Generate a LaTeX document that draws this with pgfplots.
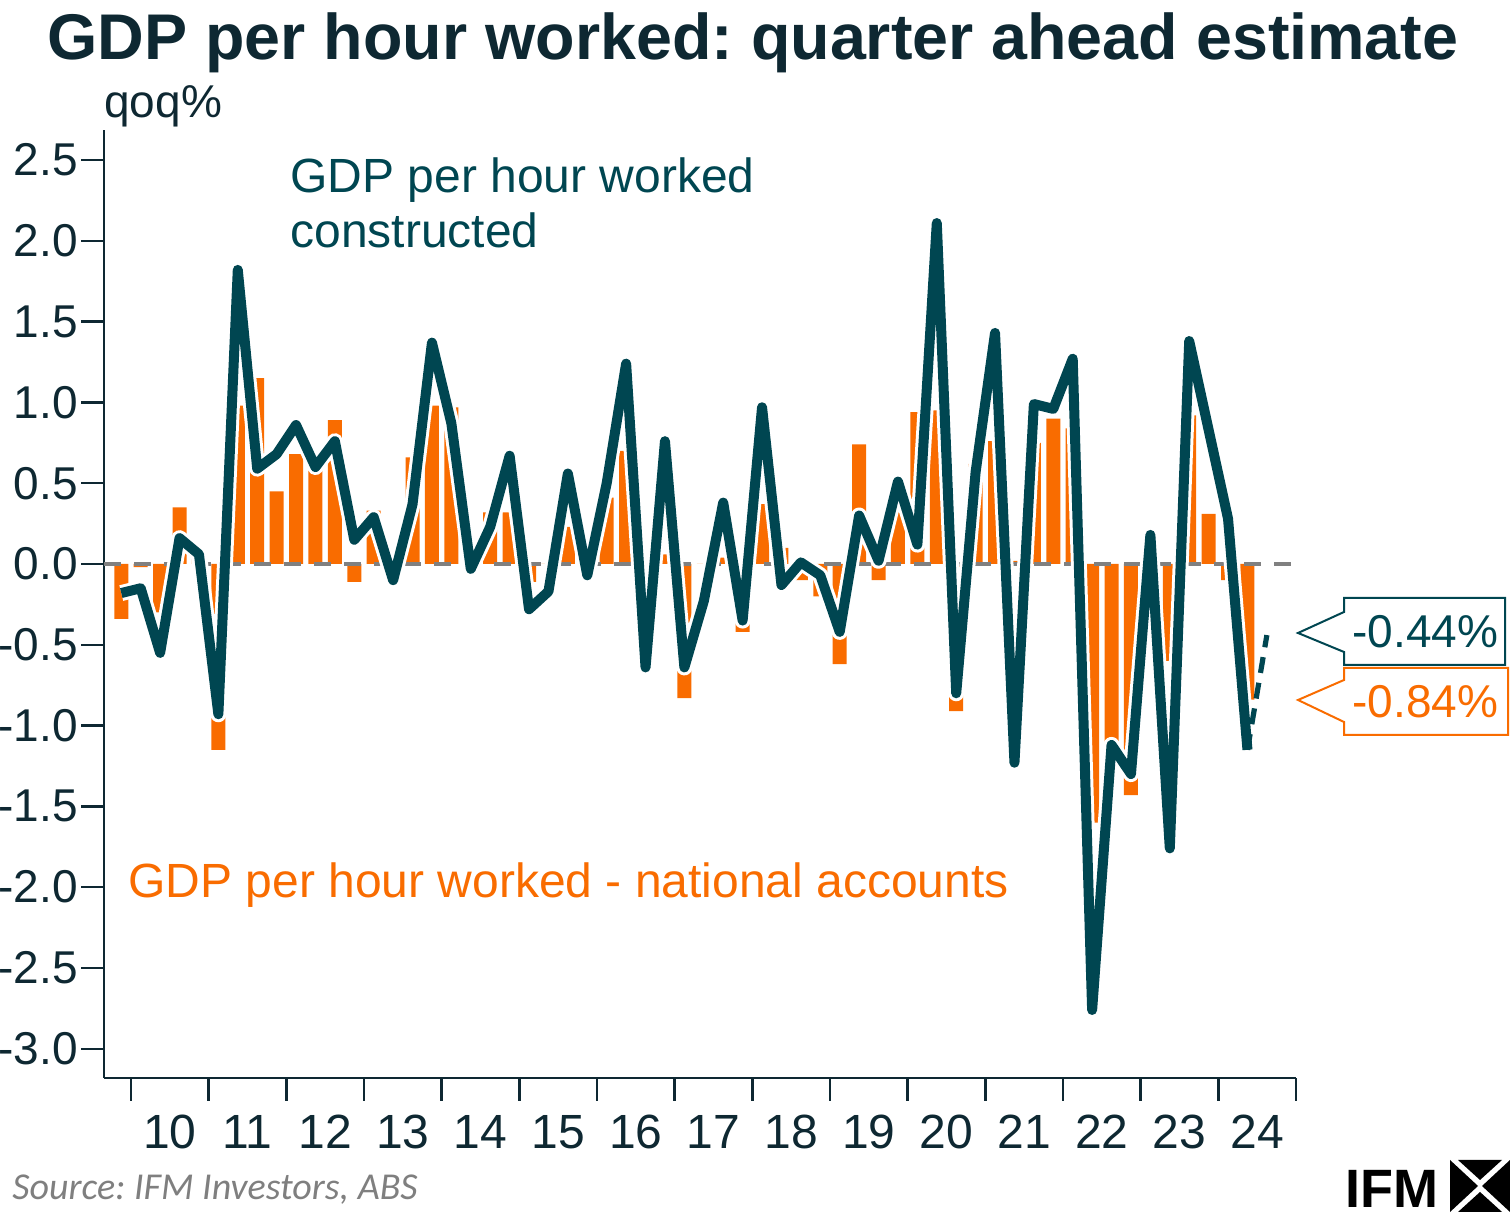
\documentclass[border=0pt]{standalone}
\usepackage{fontspec}
\setmainfont{Liberation Sans}
\newfontfamily\srcfont{Carlito}
\usepackage{pgfplots}
\usepackage{pgfplotstable}
\pgfplotsset{compat=1.18}
\frenchspacing

\definecolor{ifmdark}{RGB}{14,40,50}
\definecolor{ifmteal}{RGB}{0,70,81}
\definecolor{ifmorange}{RGB}{249,108,0}
\definecolor{srcgray}{RGB}{127,127,127}

% quarters: x=-0.5 is 2009Q4, year boundaries at 0,4,8,...
\pgfplotstableread{
x     line   na
-0.5  -0.18  -0.34
0.5   -0.15  -0.02
1.5   -0.55  -0.30
2.5    0.16   0.35
3.5    0.06   0.03
4.5   -0.93  -1.15
5.5    1.82   0.98
6.5    0.59   1.15
7.5    0.68   0.45
8.5    0.86   0.68
9.5    0.60   0.58
10.5   0.76   0.89
11.5   0.15  -0.11
12.5   0.29   0.33
13.5  -0.10   0.02
14.5   0.37   0.66
15.5   1.37   0.98
16.5   0.87   0.97
17.5  -0.03   0.02
18.5   0.23   0.32
19.5   0.67   0.32
20.5  -0.28  -0.11
21.5  -0.17   0.00
22.5   0.56   0.23
23.5  -0.07   0.02
24.5   0.50   0.41
25.5   1.24   0.70
26.5  -0.64   0.02
27.5   0.76   0.06
28.5  -0.64  -0.83
29.5  -0.23   0.00
30.5   0.38   0.04
31.5  -0.35  -0.42
32.5   0.97   0.37
33.5  -0.13   0.10
34.5   0.01  -0.10
35.5  -0.07  -0.20
36.5  -0.42  -0.62
37.5   0.30   0.74
38.5   0.02  -0.10
39.5   0.51   0.33
40.5   0.12   0.94
41.5   2.11   0.95
42.5  -0.80  -0.91
43.5   0.57   0.62
44.5   1.43   0.76
45.5  -1.23   0.02
46.5   0.99   0.75
47.5   0.96   0.90
48.5   1.27   0.84
49.5  -2.76  -1.60
50.5  -1.12  -1.10
51.5  -1.30  -1.43
52.5   0.18  -0.02
53.5  -1.76  -0.60
54.5   1.38   0.92
55.5   0.83   0.31
56.5   0.28  -0.10
57.5  -1.15  -0.84
}\gdpdata

\begin{document}
\begin{tikzpicture}
% page = reference pixels, 1 px = 0.5pt
\path[use as bounding box] (0pt,0pt) rectangle (755pt,609.5pt);

\begin{axis}[
    at={(52pt,70.5pt)}, anchor=south west,
    scale only axis, width=596pt, height=474pt,
    xmin=-1.39, xmax=60, ymin=-3.181, ymax=2.686,
    axis x line*=bottom, axis y line*=left,
    axis line style={ifmdark, line width=1pt},
    tick align=outside, major tick length=11.5pt,
    tick style={ifmdark, line width=1.2pt},
    xtick={0,4,...,60},
    x tick label as interval,
    xticklabels={10,11,12,13,14,15,16,17,18,19,20,21,22,23,24},
    ytick={-3,-2.5,...,2.5},
    yticklabels={-3.0,-2.5,-2.0,-1.5,-1.0,-0.5,0.0,0.5,1.0,1.5,2.0,2.5},
    xticklabel style={font=\fontsize{24}{26}\selectfont, text=ifmdark, yshift=-3.5pt},
    yticklabel style={font=\fontsize{23}{24}\selectfont, text=ifmdark, xshift=2pt},
  ]
  \addplot[ybar, bar width=0.72, fill=ifmorange, draw=none] table[x=x, y=na] {\gdpdata};
  \addplot[gray, line width=2.2pt, dash pattern=on 8.5pt off 6.5pt] coordinates {(-1.39,0) (60,0)};
  \addplot[white, line width=8pt, line join=round] table[x=x, y=line] {\gdpdata};
  \addplot[ifmteal, line width=5pt, line join=round] table[x=x, y=line] {\gdpdata};
  \addplot[ifmteal, line width=2.6pt, dash pattern=on 8pt off 5pt] coordinates {(57.5,-1.15) (58.5,-0.44)};
\end{axis}

\begin{scope}[x=0.5pt,y=-0.5pt,shift={(0pt,609.5pt)}]
  \node[anchor=base, inner sep=0, font=\bfseries\fontsize{32.3}{36}\selectfont, text=ifmdark]
    at (753,60) {GDP per hour worked: quarter ahead estimate};
  \node[anchor=base west, inner sep=0, font=\fontsize{23}{24}\selectfont, text=ifmdark]
    at (104,118) {qoq\%};
  \node[anchor=base west, inner sep=0, font=\fontsize{24}{26}\selectfont, text=ifmteal]
    at (290,193) {GDP per hour worked};
  \node[anchor=base west, inner sep=0, font=\fontsize{24}{26}\selectfont, text=ifmteal]
    at (290,248) {constructed};
  \node[anchor=base west, inner sep=0, font=\fontsize{24}{26}\selectfont, text=ifmorange]
    at (128,898) {GDP per hour worked - national accounts};
  % callouts
  \draw[ifmteal, line width=1pt, fill=white] (1344,598) -- (1505,598) -- (1505,665) -- (1344,665)
    -- (1344,652) -- (1298,633) -- (1344,612) -- cycle;
  \node[anchor=base west, inner sep=0, font=\fontsize{23}{24}\selectfont, text=ifmteal]
    at (1352,648) {-0.44\%};
  \draw[ifmorange, line width=1pt, fill=white] (1344,668) -- (1508,668) -- (1508,735) -- (1344,735)
    -- (1344,722) -- (1298,700) -- (1344,680) -- cycle;
  \node[anchor=base west, inner sep=0, font=\fontsize{23}{24}\selectfont, text=ifmorange]
    at (1352,718) {-0.84\%};
  % source and logo
  \node[anchor=base west, inner sep=0, font=\srcfont\itshape\fontsize{19}{20}\selectfont, text=srcgray]
    at (12,1200) {Source: IFM Investors, ABS};
  \node[anchor=base west, inner sep=0, font=\bfseries\fontsize{27}{28}\selectfont, text=black]
    at (1345,1208) {IFM};
  \fill[black] (1450,1160) -- (1478,1186) -- (1450,1212) -- cycle;
  \fill[black] (1510,1160) -- (1482,1186) -- (1510,1212) -- cycle;
  \fill[black] (1458,1160) -- (1502,1160) -- (1480,1180) -- cycle;
  \fill[black] (1458,1212) -- (1502,1212) -- (1480,1192) -- cycle;
\end{scope}
\end{tikzpicture}
\end{document}
